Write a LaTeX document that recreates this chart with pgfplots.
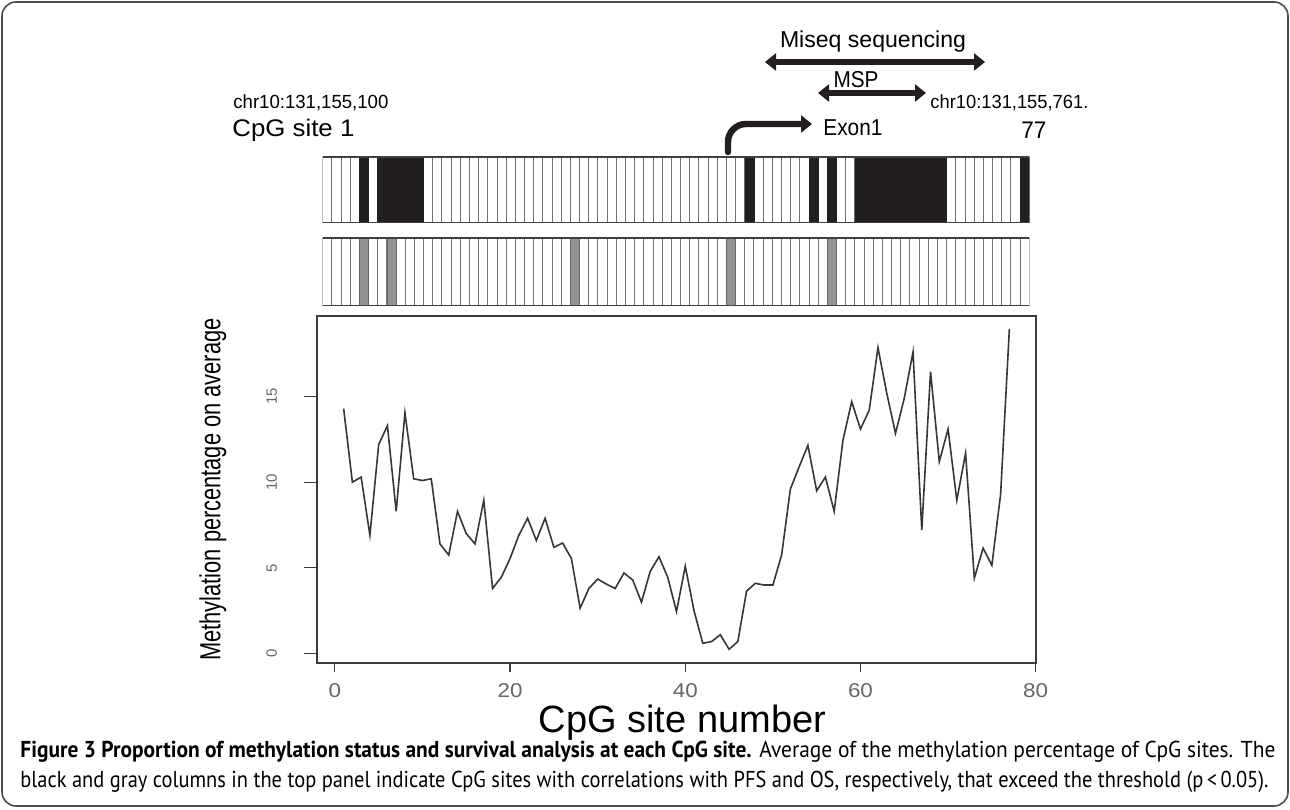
\documentclass[border=0pt]{standalone}
\usepackage{pgfplots}
\usepackage{pgfplotstable}
\pgfplotsset{compat=1.18}
\usetikzlibrary{arrows.meta}
\usepackage{fontspec}
\usepackage{graphicx}
\setmainfont{Liberation Sans}
\newfontfamily\wide[FakeStretch=1.12]{Liberation Sans}
\newfontfamily\capfont{PT Sans}
\newcommand{\fit}[2]{\resizebox{#1}{\height}{#2}}
\newcommand{\fs}[1]{\fontsize{#1}{#1}\selectfont}

\definecolor{ink}{RGB}{35,31,32}
\definecolor{osgray}{RGB}{146,146,150}
\definecolor{axgray}{RGB}{60,60,60}

% average methylation percentage at CpG sites 1..77
\pgfplotstableread{
site meth
1 14.3
2 10.0
3 10.3
4 6.9
5 12.2
6 13.3
7 8.3
8 14.05
9 10.2
10 10.1
11 10.2
12 6.4
13 5.75
14 8.3
15 7.0
16 6.4
17 8.95
18 3.8
19 4.45
20 5.55
21 6.9
22 7.9
23 6.6
24 7.9
25 6.2
26 6.45
27 5.55
28 2.65
29 3.8
30 4.35
31 4.05
32 3.8
33 4.7
34 4.3
35 3.0
36 4.8
37 5.65
38 4.45
39 2.45
40 5.1
41 2.5
42 0.6
43 0.7
44 1.1
45 0.25
46 0.7
47 3.65
48 4.1
49 4.0
50 4.0
51 5.75
52 9.6
53 10.9
54 12.15
55 9.5
56 10.3
57 8.3
58 12.45
59 14.7
60 13.1
61 14.2
62 17.85
63 15.2
64 12.85
65 14.9
66 17.6
67 7.2
68 16.45
69 11.2
70 13.1
71 8.95
72 11.7
73 4.4
74 6.15
75 5.15
76 9.3
77 18.95
}\methdata

\pgfplotsset{
  siterow/.style={
    scale only axis, width=353.3pt, anchor=south west,
    xmin=0.5, xmax=77.5, ymin=0, ymax=1,
    xtick={1.5,2.5,...,76.5}, xticklabels={}, ytick=\empty,
    major tick length=0pt,
    xmajorgrids, grid style={black!55, line width=0.5pt},
    axis line style={draw=none},
    ybar, bar width=1, bar shift=0pt,
  },
}

\begin{document}
\begin{tikzpicture}
\useasboundingbox (0,0) rectangle (645pt,404.5pt);
\draw[black!70, line width=0.8pt, rounded corners=7pt] (1pt,1.5pt) rectangle (644pt,403.5pt);

% sites correlated with PFS
\begin{axis}[siterow, at={(161.35pt,293pt)}, height=33pt]
\addplot[fill=ink, draw=ink, line width=0.3pt] coordinates {
(5,1) (7,1) (8,1) (9,1) (10,1) (11,1) (47,1) (54,1) (56,1)
(59,1) (60,1) (61,1) (62,1) (63,1) (64,1) (65,1) (66,1) (67,1) (68,1) (77,1)};
\draw[black!75, line width=0.7pt] (rel axis cs:0,0) rectangle (rel axis cs:1,1);
\end{axis}

% sites correlated with OS
\begin{axis}[siterow, at={(161.35pt,251.5pt)}, height=34pt]
\addplot[fill=osgray, draw=black!60, line width=0.3pt] coordinates {(5,1) (8,1) (28,1) (45,1) (56,1)};
\draw[black!75, line width=0.7pt] (rel axis cs:0,0) rectangle (rel axis cs:1,1);
\end{axis}

% average methylation
\begin{axis}[
  at={(158.5pt,73pt)}, anchor=south west, scale only axis,
  width=359.5pt, height=173.5pt,
  xmin=-2.04, xmax=80.04, ymin=-0.55, ymax=19.7,
  xtick={0,20,40,60,80}, ytick={0,5,10,15},
  xtick pos=lower, ytick pos=left, tick align=outside,
  major tick length=6.5pt,
  xtick style={/pgfplots/major tick length=4.5pt},
  tick style={axgray, line width=0.6pt},
  axis line style={axgray, line width=0.9pt},
  /pgf/number format/assume math mode=true,
  xticklabel style={font=\wide\fs{10}, text=black!60},
  yticklabel style={rotate=90, anchor=south, yshift=10pt, font=\fs{7.5}, text=black!60},
  xlabel={\fs{19}CpG site number},
  ylabel={\fit{171pt}{\fs{14.5}Methylation percentage on average}},
  xlabel style={at={(rel axis cs:0.5,0)}, anchor=center, yshift=-30pt, xshift=3pt},
  ylabel style={at={(rel axis cs:0,0.5)}, anchor=center, rotate=0, yshift=52pt},
]
\addplot[sharp plot, ink!90, line width=0.8pt] table[x=site, y=meth] {\methdata};
\end{axis}

% annotations above the strip (coordinates in image pixels, y upwards)
\begin{scope}[x=0.5pt, y=0.5pt]
\node[anchor=center, inner sep=0] at (873,767) {\fit{93pt}{\fs{11.5}Miseq sequencing}};
\draw[ink, line width=3.2pt, {Triangle[width=8.5pt,length=5.5pt]}-{Triangle[width=8.5pt,length=5.5pt]}] (765,747) -- (985,747);
\node[anchor=center, inner sep=0] at (856,729) {\fit{22.5pt}{\fs{11.5}MSP}};
\draw[ink, line width=3.2pt, {Triangle[width=8.5pt,length=5.5pt]}-{Triangle[width=8.5pt,length=5.5pt]}] (818,716) -- (926,716);
\draw[ink, line width=3.2pt, line cap=round, rounded corners=9pt, -{Triangle[width=8.5pt,length=5.5pt]}] (728,657) -- (728,685) -- (812,685);
\node[anchor=west, inner sep=0] at (823,681) {\fit{29.5pt}{\fs{11.5}Exon1}};
\node[anchor=west, inner sep=0] at (233,706) {\fit{77.5pt}{\fs{9.5}chr10:131,155,100}};
\node[anchor=west, inner sep=0] at (232,679) {\fit{61pt}{\fs{12}CpG site 1}};
\node[anchor=west, inner sep=0] at (930,706) {\fit{79pt}{\fs{9.5}chr10:131,155,761.}};
\node[anchor=west, inner sep=0] at (1021,679) {\fit{12.5pt}{\fs{12}77}};

% caption
\node[anchor=west, inner sep=0] at (20,57) {\fit{627.5pt}{\capfont\fs{11.5}\textbf{Figure 3 Proportion of methylation status and survival analysis at each CpG site.} Average of the methylation percentage of CpG sites. The}};
\node[anchor=west, inner sep=0] at (20,27) {\fit{624pt}{\capfont\fs{11.5}black and gray columns in the top panel indicate CpG sites with correlations with PFS and OS, respectively, that exceed the threshold (p\,<\,0.05).}};
\end{scope}
\end{tikzpicture}
\end{document}
